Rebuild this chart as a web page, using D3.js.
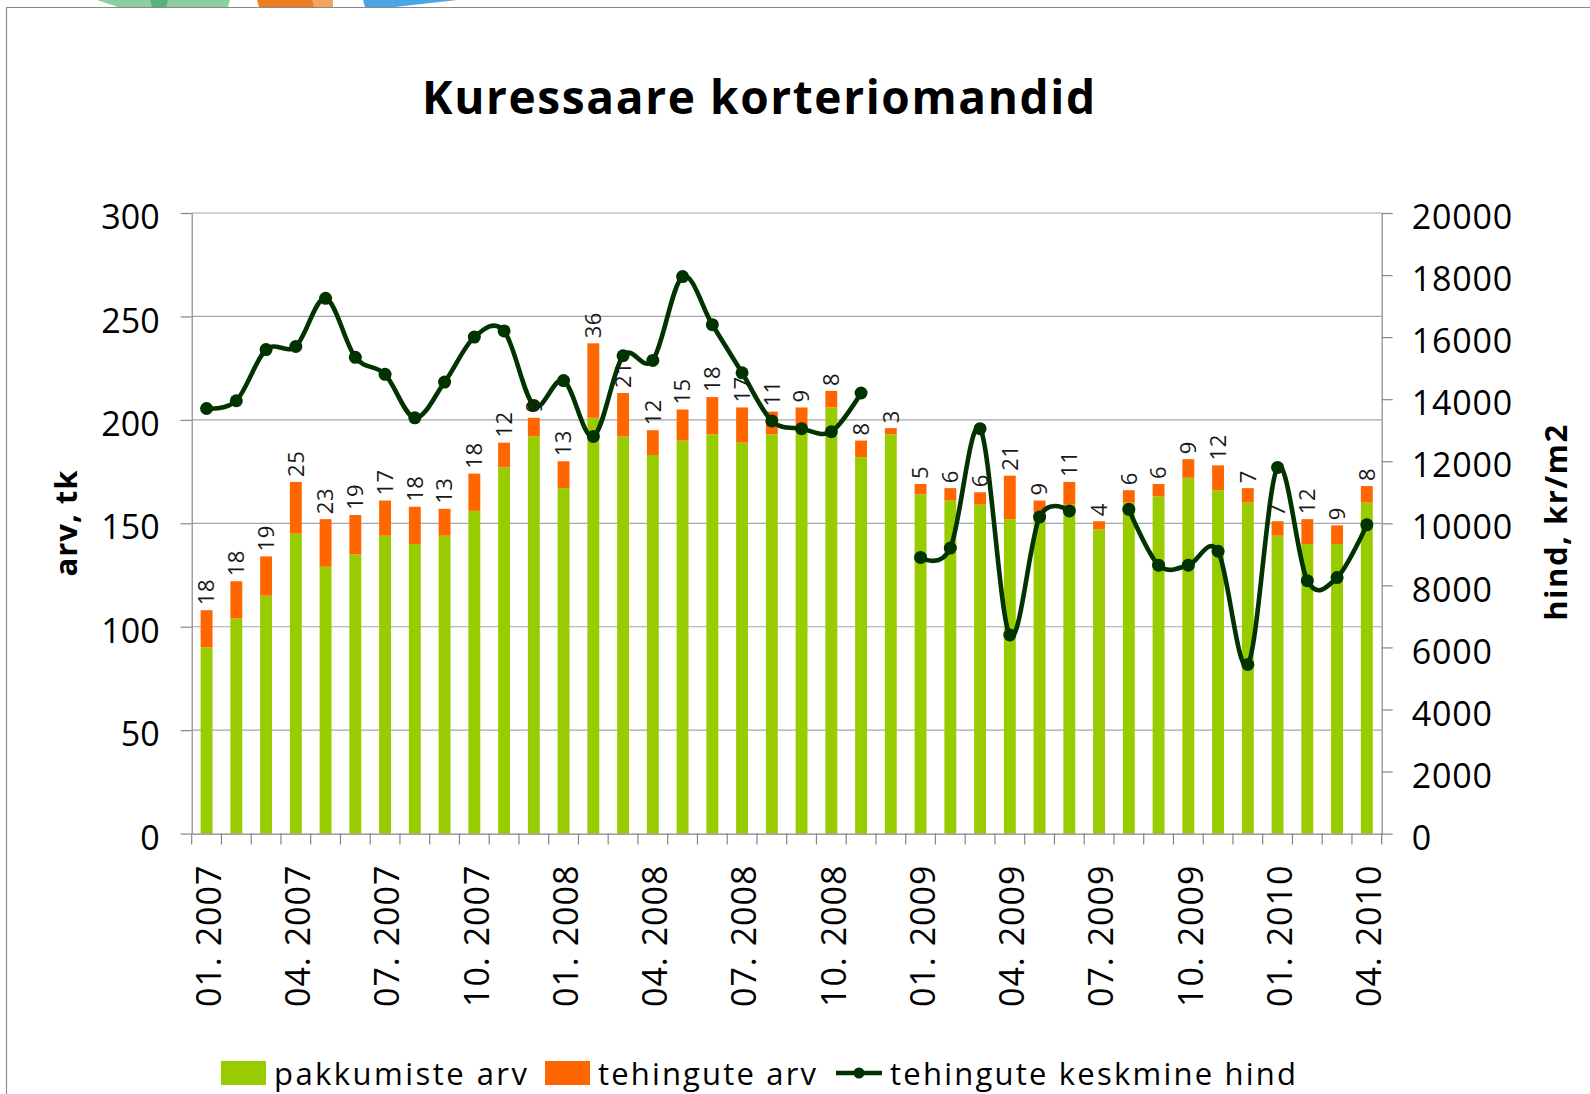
<!DOCTYPE html>
<html>
<head>
<meta charset="utf-8">
<title>Kuressaare korteriomandid</title>
<script src="https://cdn.jsdelivr.net/npm/d3@7"></script>
<style>
  html, body { margin: 0; padding: 0; background: #fff; }
  svg { display: block; font-family: 'Open Sans', 'DejaVu Sans', sans-serif; }
</style>
</head>
<body>
<div id="chart"></div>
<script>
// ── Data ───────────────────────────────────────────────────────────────────

var months = [
  '01. 2007', '02. 2007', '03. 2007', '04. 2007', '05. 2007', '06. 2007',
  '07. 2007', '08. 2007', '09. 2007', '10. 2007', '11. 2007', '12. 2007',
  '01. 2008', '02. 2008', '03. 2008', '04. 2008', '05. 2008', '06. 2008',
  '07. 2008', '08. 2008', '09. 2008', '10. 2008', '11. 2008', '12. 2008',
  '01. 2009', '02. 2009', '03. 2009', '04. 2009', '05. 2009', '06. 2009',
  '07. 2009', '08. 2009', '09. 2009', '10. 2009', '11. 2009', '12. 2009',
  '01. 2010', '02. 2010', '03. 2010', '04. 2010'
];

// pakkumiste arv (green part of the stack)
var pakkumised = [
  90, 104, 115, 145, 129, 135, 144, 140, 144, 156, 177, 192,
  167, 201, 192, 183, 190, 193, 189, 193, 197, 206, 182, 193,
  164, 161, 159, 152, 152, 159, 147, 160, 163, 172, 166, 160,
  144, 140, 140, 160
];

// tehingute arv (orange part, also the labels)
var tehingud = [
  18, 18, 19, 25, 23, 19, 17, 18, 13, 18, 12, 9,
  13, 36, 21, 12, 15, 18, 17, 11, 9, 8, 8, 3,
  5, 6, 6, 21, 9, 11, 4, 6, 6, 9, 12, 7,
  7, 12, 9, 8
];

// tehingute keskmine hind, kr/m2 (null = no deals that month)
var hind = [
  13700, 13950, 15600, 15700, 17250, 15350, 14800, 13400, 14550, 16000, 16200, 13800,
  14600, 12800, 15400, 15250, 17950, 16400, 14850, 13300, 13050, 12950, 14200, null,
  8900, 9200, 13050, 6400, 10200, 10400, null, 10450, 8650, 8650, 9100, 5450,
  11800, 8150, 8250, 9950
];

var leftTicks  = [0, 50, 100, 150, 200, 250, 300];
var rightTicks = [0, 2000, 4000, 6000, 8000, 10000, 12000, 14000, 16000, 18000, 20000];
var monthTicks = ['01. 2007', '04. 2007', '07. 2007', '10. 2007', '01. 2008', '04. 2008',
                  '07. 2008', '10. 2008', '01. 2009', '04. 2009', '07. 2009', '10. 2009',
                  '01. 2010', '04. 2010'];

// ── Colours ────────────────────────────────────────────────────────────────

var GREEN  = '#99cc00';
var ORANGE = '#ff6600';
var LINE   = '#003300';
var GRID   = '#a6a6a6';
var AXIS   = '#868686';

// ── Chart ──────────────────────────────────────────────────────────────────

function drawChart() {
  var width = 1590, height = 1094;
  var plot = { left: 191.7, right: 1381.7, top: 213, bottom: 833.6 };

  var svg = d3.select('#chart').append('svg')
    .attr('width', width)
    .attr('height', height);

  // frame and the cut-off logo above it
  var logo = svg.append('g');
  logo.append('path').attr('d', 'M97,0 L230,0 L228,7 L118,7 Z').attr('fill', '#8fcda3');
  logo.append('path').attr('d', 'M150,0 L168,0 L166,7 L152,7 Z').attr('fill', '#5cb07c');
  logo.append('path').attr('d', 'M257,0 L333,0 L333,7 L259,7 Z').attr('fill', '#ee7d22');
  logo.append('path').attr('d', 'M312,0 L333,0 L333,7 L314,7 Z').attr('fill', '#f3a463');
  logo.append('path').attr('d', 'M363,0 L457,0 L395,7 L365,7 Z').attr('fill', '#4aa6e6');

  svg.append('path')
    .attr('d', 'M6.5,' + height + ' L6.5,7.5 L' + width + ',7.5')
    .attr('fill', 'none')
    .attr('stroke', '#8a8a8a')
    .attr('stroke-width', 1.2);

  var x = d3.scaleBand().domain(months).range([plot.left, plot.right]).padding(0);
  var yL = d3.scaleLinear().domain([0, 300]).range([plot.bottom, plot.top]);
  var yR = d3.scaleLinear().domain([0, 20000]).range([plot.bottom, plot.top]);
  var barW = x.bandwidth() * 0.4;
  function cx(m) { return x(m) + x.bandwidth() / 2; }

  // gridlines
  svg.append('g')
    .selectAll('line')
    .data(leftTicks.slice(1))
    .join('line')
    .attr('x1', plot.left).attr('x2', plot.right)
    .attr('y1', function(d) { return yL(d); })
    .attr('y2', function(d) { return yL(d); })
    .attr('stroke', GRID)
    .attr('stroke-width', 1.2);

  // stacked bars
  var bars = svg.append('g');
  bars.selectAll('rect.pak')
    .data(months)
    .join('rect')
    .attr('class', 'pak')
    .attr('x', function(d) { return cx(d) - barW / 2; })
    .attr('width', barW)
    .attr('y', function(d, i) { return yL(pakkumised[i]); })
    .attr('height', function(d, i) { return yL(0) - yL(pakkumised[i]); })
    .attr('fill', GREEN);

  bars.selectAll('rect.teh')
    .data(months)
    .join('rect')
    .attr('class', 'teh')
    .attr('x', function(d) { return cx(d) - barW / 2; })
    .attr('width', barW)
    .attr('y', function(d, i) { return yL(pakkumised[i] + tehingud[i]); })
    .attr('height', function(d, i) { return yL(pakkumised[i]) - yL(pakkumised[i] + tehingud[i]); })
    .attr('fill', ORANGE);

  // axes
  var leftAxis = svg.append('g')
    .attr('transform', 'translate(' + plot.left + ',0)')
    .call(d3.axisLeft(yL).tickValues(leftTicks).tickSize(11).tickSizeOuter(0).tickPadding(21));

  var rightAxis = svg.append('g')
    .attr('transform', 'translate(' + plot.right + ',0)')
    .call(d3.axisRight(yR).tickValues(rightTicks).tickFormat(d3.format('d'))
      .tickSize(11).tickSizeOuter(0).tickPadding(19));

  var bottomAxis = svg.append('g')
    .attr('transform', 'translate(0,' + plot.bottom + ')')
    .call(d3.axisBottom(x).tickValues(monthTicks).tickSize(0).tickSizeOuter(0));

  [leftAxis, rightAxis, bottomAxis].forEach(function(a) {
    a.select('.domain').attr('stroke', AXIS).attr('stroke-width', 1.2);
    a.selectAll('.tick line').attr('stroke', AXIS).attr('stroke-width', 1.2);
    a.selectAll('text')
      .attr('fill', '#000')
      .attr('font-family', "'Open Sans', sans-serif")
      .attr('font-size', 34);
  });
  leftAxis.selectAll('text').attr('dy', '0.46em');
  rightAxis.selectAll('text').attr('dy', '0.46em').style('letter-spacing', '0.8px');

  bottomAxis.selectAll('text')
    .attr('transform', 'rotate(-90)')
    .attr('text-anchor', 'end')
    .attr('x', -31)
    .attr('y', 0)
    .attr('dy', '0.42em')
    .style('letter-spacing', '1px');

  // category boundary ticks
  bottomAxis.append('g')
    .selectAll('line')
    .data(months.map(function(m) { return x(m); }).concat([plot.right]))
    .join('line')
    .attr('x1', function(d) { return d; })
    .attr('x2', function(d) { return d; })
    .attr('y1', 0).attr('y2', 11)
    .attr('stroke', AXIS)
    .attr('stroke-width', 1.2);

  // price line (Excel-style smoothing)
  var line = d3.line()
    .defined(function(d) { return d != null; })
    .x(function(d, i) { return cx(months[i]); })
    .y(function(d) { return yR(d); })
    .curve(d3.curveCardinal.tension(0));

  svg.append('path')
    .datum(hind)
    .attr('d', line)
    .attr('fill', 'none')
    .attr('stroke', LINE)
    .attr('stroke-width', 4.6)
    .attr('stroke-linejoin', 'round');

  svg.append('g')
    .selectAll('circle')
    .data(months.filter(function(m, i) { return hind[i] != null; }))
    .join('circle')
    .attr('cx', function(d) { return cx(d); })
    .attr('cy', function(d) { return yR(hind[months.indexOf(d)]); })
    .attr('r', 6.5)
    .attr('fill', LINE);

  // data labels for tehingute arv
  svg.append('g')
    .selectAll('text')
    .data(months)
    .join('text')
    .attr('transform', function(d, i) {
      return 'translate(' + cx(d) + ',' + (yL(pakkumised[i] + tehingud[i]) - 5) + ') rotate(-90)';
    })
    .attr('dy', '0.36em')
    .attr('font-size', 22)
    .attr('fill', '#1a1a1a')
    .style('letter-spacing', '0.5px')
    .text(function(d, i) { return tehingud[i]; });

  // title
  svg.append('text')
    .attr('x', 758.5)
    .attr('y', 113.6)
    .attr('text-anchor', 'middle')
    .attr('font-size', 46)
    .attr('font-weight', 'bold')
    .attr('textLength', 673)
    .attr('lengthAdjust', 'spacing')
    .text('Kuressaare korteriomandid');

  // axis titles
  svg.append('text')
    .attr('transform', 'translate(77,523) rotate(-90)')
    .attr('text-anchor', 'middle')
    .attr('font-size', 31)
    .attr('font-weight', 'bold')
    .style('letter-spacing', '1px')
    .text('arv, tk');

  svg.append('text')
    .attr('transform', 'translate(1567,522) rotate(-90)')
    .attr('text-anchor', 'middle')
    .attr('font-size', 31)
    .attr('font-weight', 'bold')
    .style('letter-spacing', '1.5px')
    .text('hind, kr/m2');

  // legend (sits on the bottom edge, as in the original)
  var legend = svg.append('g');
  legend.append('rect').attr('x', 221).attr('y', 1061).attr('width', 45).attr('height', 24).attr('fill', GREEN);
  legend.append('rect').attr('x', 545).attr('y', 1061).attr('width', 45).attr('height', 24).attr('fill', ORANGE);
  legend.append('line').attr('x1', 836).attr('x2', 882).attr('y1', 1073).attr('y2', 1073)
    .attr('stroke', LINE).attr('stroke-width', 4.6);
  legend.append('circle').attr('cx', 859).attr('cy', 1073).attr('r', 5.5).attr('fill', LINE);

  var items = [
    { text: 'pakkumiste arv', x: 274, w: 253 },
    { text: 'tehingute arv', x: 598, w: 218 },
    { text: 'tehingute keskmine hind', x: 890, w: 406 }
  ];
  legend.selectAll('text')
    .data(items)
    .join('text')
    .attr('x', function(d) { return d.x; })
    .attr('y', 1085)
    .attr('font-size', 31)
    .attr('textLength', function(d) { return d.w; })
    .attr('lengthAdjust', 'spacing')
    .text(function(d) { return d.text; });
}

drawChart();
</script>
</body>
</html>
